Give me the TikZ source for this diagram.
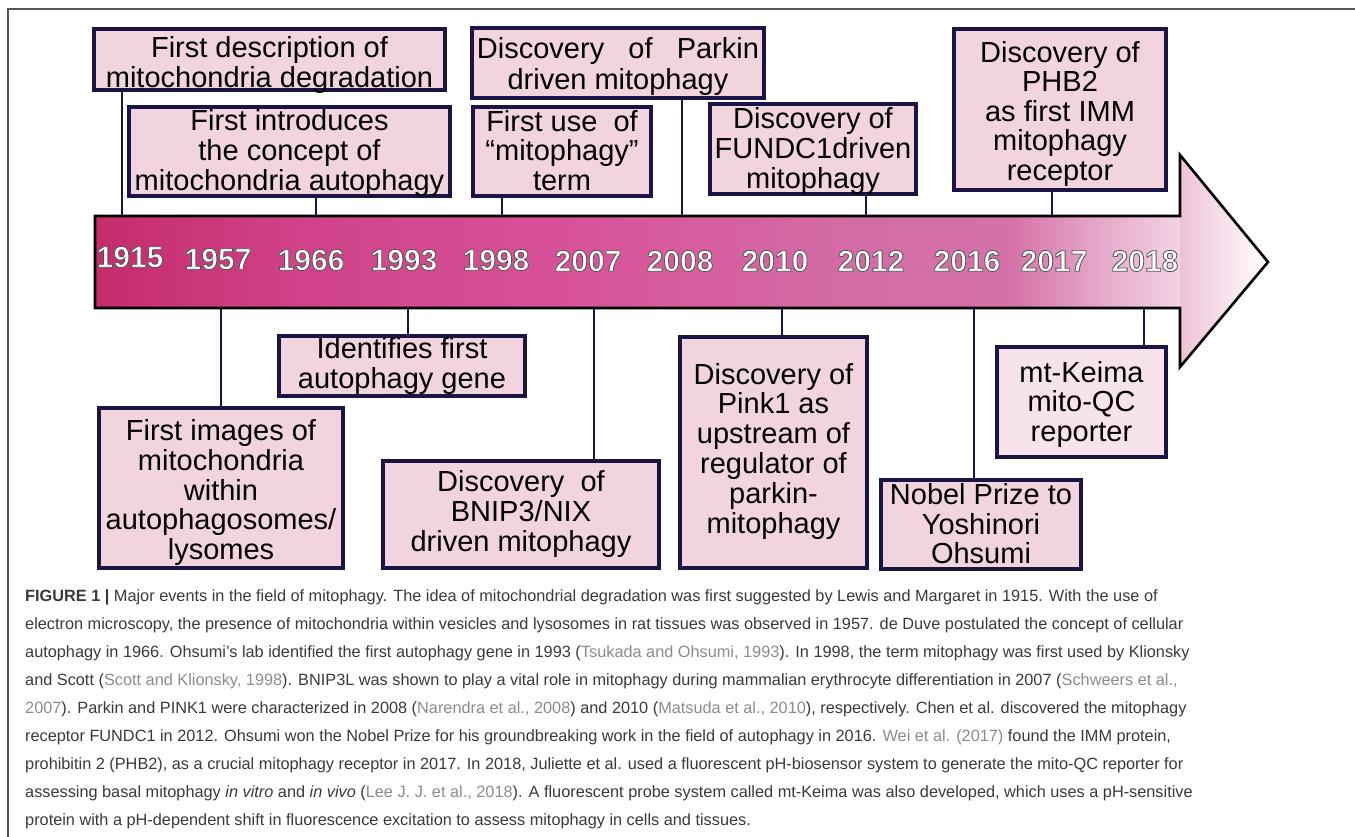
\documentclass[tikz,border=0pt]{standalone}
\usepackage{fontspec}
\setmainfont{Liberation Sans}
\newfontfamily\capfont{Liberation Sans}
\definecolor{boxfill}{HTML}{F1D4DD}
\definecolor{boxfillb}{HTML}{F6E3EC}
\definecolor{navy}{HTML}{1B1446}
\definecolor{capgray}{HTML}{3A3A3A}
\definecolor{citegray}{HTML}{8C8C8C}
\definecolor{frame}{HTML}{555555}
\definecolor{ga}{HTML}{C42C6B}
\definecolor{gb}{HTML}{D0428A}
\definecolor{gc}{HTML}{D85198}
\definecolor{gd}{HTML}{D46CA6}
\definecolor{ge}{HTML}{D472A8}
\definecolor{gf}{HTML}{E6A8CA}
\definecolor{gg}{HTML}{F3D3E4}
\definecolor{headl}{HTML}{EEC2D8}
\newcommand\ct[1]{\textcolor{citegray}{#1}}
\newcommand\outlined[1]{\special{pdf:literal direct 2 Tr 0.8 w 0.32 0.32 0.32 RG}#1\special{pdf:literal direct 0 Tr}}
% #1 = downward shift (pt), #2 = lines
\newcommand\tx[2]{\raisebox{-#1pt}[\height][\depth]{\begin{tabular}{@{}c@{}}#2\end{tabular}}}
\begin{document}
\begin{tikzpicture}[x=1pt,y=-1pt,
  evbox/.style={draw=navy, line width=4, fill=boxfill, inner sep=0pt, align=center,
    font=\fontsize{29}{29.2}\selectfont, text=black},
  conn/.style={draw=navy, line width=2},
  yr/.style={font=\bfseries\fontsize{30}{32}\selectfont, text=white}]
\useasboundingbox (0,0) rectangle (1355,837);
\fill[white] (0,0) rectangle (1355,837);
% frame
\draw[frame, line width=1.6] (8,837) -- (8,9) -- (1355,9);
% arrow body gradient
\shade[left color=ga, right color=gb] (95,216) rectangle (300.5,308);
\shade[left color=gb, right color=gc] (300,216) rectangle (560.5,308);
\shade[left color=gc, right color=gd] (560,216) rectangle (850.5,308);
\shade[left color=gd, right color=ge] (850,216) rectangle (1010.5,308);
\shade[left color=ge, right color=gf] (1010,216) rectangle (1100.5,308);
\shade[left color=gf, right color=gg] (1100,216) rectangle (1180.5,308);
\shade[left color=headl, right color=white] (1180,155) -- (1268,262) -- (1180,367) -- cycle;
\draw[line width=2.6, line join=miter] (95,216) -- (1180,216) -- (1180,155) -- (1268,262) -- (1180,367) -- (1180,308) -- (95,308) -- cycle;
% years
\node[yr] (y1915) at (130,257) {\outlined{1915}};
\node[yr] (y1957) at (218,259) {\outlined{1957}};
\node[yr] (y1966) at (311,260) {\outlined{1966}};
\node[yr] (y1993) at (404,260) {\outlined{1993}};
\node[yr] (y1998) at (496,260) {\outlined{1998}};
\node[yr] (y2007) at (588,261) {\outlined{2007}};
\node[yr] (y2008) at (680,261) {\outlined{2008}};
\node[yr] (y2010) at (775,261) {\outlined{2010}};
\node[yr] (y2012) at (871,261) {\outlined{2012}};
\node[yr] (y2016) at (967,261) {\outlined{2016}};
\node[yr] (y2017) at (1054,261) {\outlined{2017}};
\node[yr] (y2018) at (1145,261) {\outlined{2018}};
% boxes above
\node[evbox, minimum width=351, minimum height=61] (b1) at (269.5,59.5) {\tx{6.5}{First description of\\mitochondria degradation}};
\node[evbox, minimum width=321, minimum height=85] (b2) at (289.5,151.5) {\tx{3}{First introduces\\the concept of\\mitochondria autophagy}};
\node[evbox, minimum width=292, minimum height=70, font=\fontsize{29}{31.5}\selectfont] (b3) at (618,63) {\tx{4.5}{Discovery\ \ \ of\ \ \ Parkin\\driven mitophagy}};
\node[evbox, minimum width=178, minimum height=85] (b4) at (562,151.5) {\tx{3}{First use\ \ of\\“mitophagy”\\term}};
\node[evbox, minimum width=206, minimum height=90] (b5) at (813,149) {\tx{3.5}{Discovery of\\FUNDC1driven\\mitophagy}};
\node[evbox, minimum width=212, minimum height=161] (b6) at (1060,109.5) {\tx{5.5}{Discovery of\\PHB2\\as first IMM\\mitophagy\\receptor}};
% boxes below
\node[evbox, minimum width=244, minimum height=160] (b7) at (221,488) {\tx{6}{First images of\\mitochondria\\within\\autophagosomes/\\lysomes}};
\node[evbox, minimum width=246, minimum height=56] (b8) at (402,366) {\tx{1.5}{Identifies first\\autophagy gene}};
\node[evbox, minimum width=276, minimum height=107] (b9) at (521,514.5) {\tx{1}{Discovery\ \ of\\BNIP3/NIX\\driven mitophagy}};
\node[evbox, minimum width=187, minimum height=231] (b10) at (773.5,452.5) {\tx{0}{Discovery of\\Pink1 as\\upstream of\\regulator of\\parkin-\\mitophagy}};
\node[evbox, minimum width=200, minimum height=87] (b11) at (981,524.5) {\tx{3.5}{Nobel Prize to\\Yoshinori\\Ohsumi}};
\node[evbox, fill=boxfillb, minimum width=169, minimum height=110] (b12) at (1081.5,402) {\tx{3.5}{mt-Keima\\mito-QC\\reporter}};
% connector anchors on the bar
\coordinate (c1915) at (122,216);
\coordinate (c1966) at (316,216);
\coordinate (c1998) at (502,216);
\coordinate (c2008) at (682,216);
\coordinate (c2012) at (866,216);
\coordinate (c2017) at (1052,216);
\coordinate (c1957) at (221,308);
\coordinate (c1993) at (408,308);
\coordinate (c2007) at (594,308);
\coordinate (c2010) at (782,308);
\coordinate (c2016) at (974,308);
\coordinate (c2018) at (1144,308);
\draw[conn] (c1915) -- (c1915 |- b1.south);
\draw[conn] (c1966) -- (c1966 |- b2.south);
\draw[conn] (c1998) -- (c1998 |- b4.south);
\draw[conn] (c2008) -- (c2008 |- b3.south);
\draw[conn] (c2012) -- (c2012 |- b5.south);
\draw[conn] (c2017) -- (c2017 |- b6.south);
\draw[conn] (c1957) -- (c1957 |- b7.north);
\draw[conn] (c1993) -- (c1993 |- b8.north);
\draw[conn] (c2007) -- (c2007 |- b9.north);
\draw[conn] (c2010) -- (c2010 |- b10.north);
\draw[conn] (c2016) -- (c2016 |- b11.north);
\draw[conn] (c2018) -- (c2018 |- b12.north);
% caption
\node[anchor=north west, align=left, inner sep=0pt, text=capgray,
  font=\capfont\fontsize{16.3}{28}\selectfont] (cap) at (25,589) {%
\textbf{FIGURE 1 |} Major events in the field of mitophagy. The idea of mitochondrial degradation was first suggested by Lewis and Margaret in 1915. With the use of\\
electron microscopy, the presence of mitochondria within vesicles and lysosomes in rat tissues was observed in 1957. de Duve postulated the concept of cellular\\
autophagy in 1966. Ohsumi’s lab identified the first autophagy gene in 1993 (\ct{Tsukada and Ohsumi, 1993}). In 1998, the term mitophagy was first used by Klionsky\\
and Scott (\ct{Scott and Klionsky, 1998}). BNIP3L was shown to play a vital role in mitophagy during mammalian erythrocyte differentiation in 2007 (\ct{Schweers et al.,}\\
\ct{2007}). Parkin and PINK1 were characterized in 2008 (\ct{Narendra et al., 2008}) and 2010 (\ct{Matsuda et al., 2010}), respectively. Chen et al. discovered the mitophagy\\
receptor FUNDC1 in 2012. Ohsumi won the Nobel Prize for his groundbreaking work in the field of autophagy in 2016. \ct{Wei et al. (2017)} found the IMM protein,\\
prohibitin 2 (PHB2), as a crucial mitophagy receptor in 2017. In 2018, Juliette et al. used a fluorescent pH-biosensor system to generate the mito-QC reporter for\\
assessing basal mitophagy \textit{in vitro} and \textit{in vivo} (\ct{Lee J. J. et al., 2018}). A fluorescent probe system called mt-Keima was also developed, which uses a pH-sensitive\\
protein with a pH-dependent shift in fluorescence excitation to assess mitophagy in cells and tissues.};
\end{tikzpicture}
\end{document}
